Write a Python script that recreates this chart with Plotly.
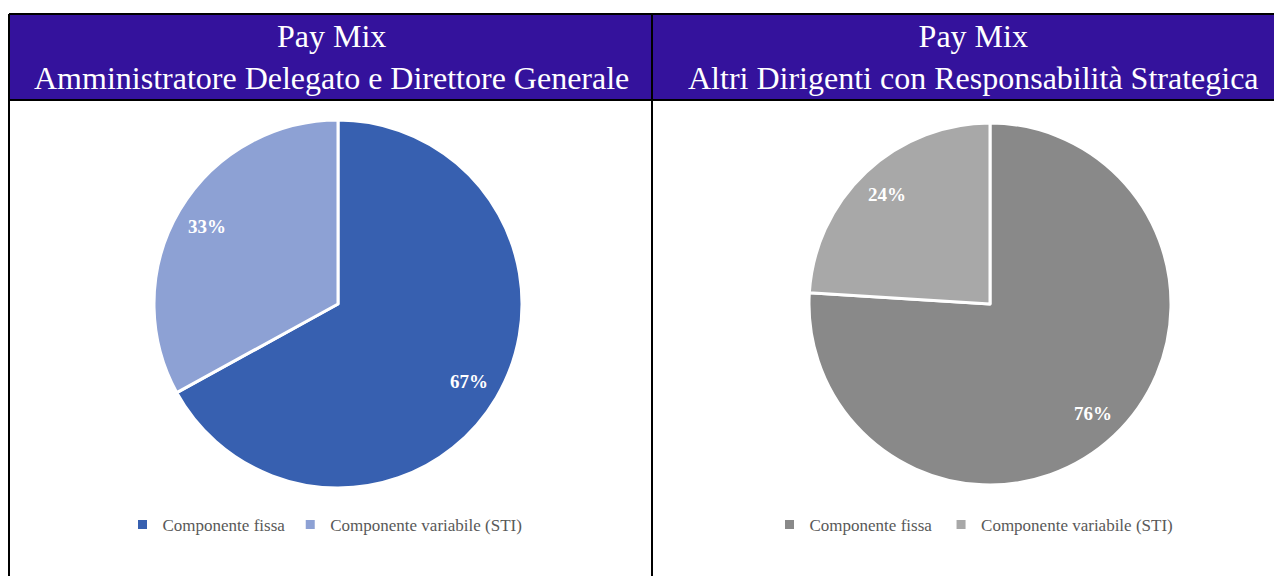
import math
import plotly.graph_objects as go

# page body adds an 8px margin, so the figure is drawn 8px in from the window edge
OFF = 8
W, H = 1282 - OFF, 576 - OFF

categories = ["Componente fissa", "Componente variabile (STI)"]
values_ad = [67, 33]
values_dirs = [76, 24]
titles = [
    "Pay Mix<br>Amministratore Delegato e Direttore Generale",
    "Pay Mix<br>Altri Dirigenti con Responsabilità Strategica",
]
colors_ad = ["#3760B0", "#8DA1D4"]
colors_dirs = ["#898989", "#A8A8A8"]


def fx(x):
    return (x - OFF) / W


def fy(y):
    return 1 - (y - OFF) / H


fig = go.Figure()

pies = [
    # values, colors, center x, center y, radius (window px), legend, label suffix
    (values_ad, colors_ad, 338, 304, 184, "legend", ""),
    (values_dirs, colors_dirs, 990, 304, 181, "legend2", " "),
]

annotations = []
for vals, cols, cx, cy, r, leg, suf in pies:
    fig.add_trace(go.Pie(
        labels=[c + suf for c in categories], values=vals, sort=False,
        direction="clockwise", rotation=0,
        marker=dict(colors=cols, line=dict(color="white", width=3)),
        textinfo="none",
        domain=dict(x=[fx(cx - r), fx(cx + r)], y=[fy(cy + r), fy(cy - r)]),
        legend=leg, hoverinfo="label+percent",
    ))
    total = sum(vals)
    cum = 0
    for v in vals:
        mid = (cum + v / 2) / total * 2 * math.pi
        cum += v
        rr = 0.83 * r
        tx = cx + rr * math.sin(mid)
        ty = cy - rr * math.cos(mid)
        annotations.append(dict(
            text=f"<b>{round(v / total * 100)}%</b>", x=fx(tx), y=fy(ty),
            xref="paper", yref="paper", showarrow=False,
            xanchor="center", yanchor="middle",
            font=dict(family="Liberation Serif", size=19, color="white"),
        ))

shapes = []
shapes.append(dict(type="rect", xref="paper", yref="paper",
                   x0=fx(9), x1=fx(1290), y0=fy(100), y1=fy(14),
                   fillcolor="#34129C", line=dict(width=0), layer="below"))
line = dict(color="black", width=2)
for (x0, y0, x1, y1) in [(9, 14, 1290, 14), (9, 100, 1290, 100),
                         (9, 14, 9, 590), (652, 14, 652, 590)]:
    shapes.append(dict(type="line", xref="paper", yref="paper",
                       x0=fx(x0), x1=fx(x1), y0=fy(y0), y1=fy(y1), line=line))

for t, cx in zip(titles, [331, 973]):
    annotations.append(dict(
        text=t, x=fx(cx), y=fy(57), xref="paper", yref="paper",
        xanchor="center", yanchor="middle", showarrow=False,
        font=dict(family="Liberation Serif", size=32, color="white"),
        align="center",
    ))

legend_font = dict(family="Liberation Serif", size=17, color="#595959")
fig.update_layout(
    width=W, height=H,
    margin=dict(l=0, r=0, t=0, b=0),
    paper_bgcolor="white", plot_bgcolor="white",
    shapes=shapes, annotations=annotations,
    legend=dict(orientation="h", x=fx(325), xanchor="center",
                y=fy(525), yanchor="middle", font=legend_font,
                itemwidth=30, bgcolor="rgba(0,0,0,0)"),
    legend2=dict(orientation="h", x=fx(976), xanchor="center",
                 y=fy(525), yanchor="middle", font=legend_font,
                 itemwidth=30, bgcolor="rgba(0,0,0,0)"),
)

fig.write_html("out.html")
